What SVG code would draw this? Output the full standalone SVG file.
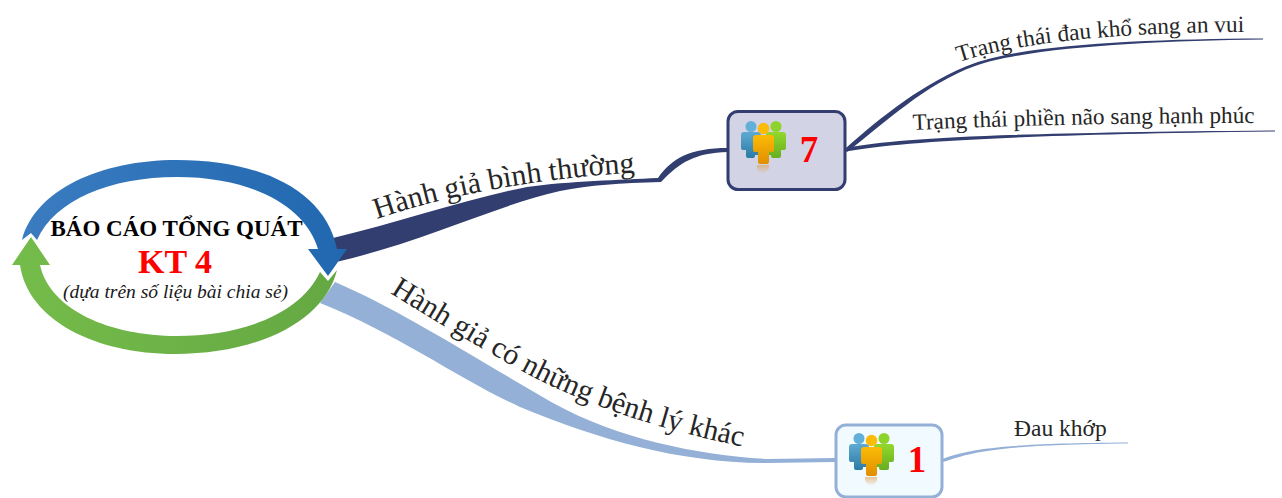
<svg xmlns="http://www.w3.org/2000/svg" width="1282" height="498" viewBox="0 0 1282 498">
<style>
text{font-family:"Liberation Serif","Times New Roman",serif}
.lab{fill:#262626}
.num{fill:#ff0000;font-weight:bold;font-size:37px;text-anchor:middle}
.dark{fill:#323d70}
.light{fill:#94b0d6}
</style>
<defs>
<linearGradient id="gBlue" x1="0" y1="0" x2="0" y2="1"><stop offset="0" stop-color="#5faad2"/><stop offset="1" stop-color="#2a7ba6"/></linearGradient>
<linearGradient id="gGreen" x1="0" y1="0" x2="0" y2="1"><stop offset="0" stop-color="#92d82c"/><stop offset="1" stop-color="#68ae20"/></linearGradient>
<linearGradient id="gOrange" x1="0" y1="0" x2="0" y2="1"><stop offset="0" stop-color="#fbbb06"/><stop offset="1" stop-color="#e08e00"/></linearGradient>
<linearGradient id="gRef" x1="0" y1="0" x2="0" y2="1"><stop offset="0" stop-color="#e0a050" stop-opacity=".6"/><stop offset="1" stop-color="#e0a050" stop-opacity="0"/></linearGradient>
<linearGradient id="gArcB" x1="0" y1="0" x2="1" y2="0"><stop offset="0" stop-color="#3b7cc0"/><stop offset="1" stop-color="#2168b0"/></linearGradient>
<linearGradient id="gArcG" x1="0" y1="0" x2="1" y2="0"><stop offset="0" stop-color="#74bc4a"/><stop offset="1" stop-color="#65a843"/></linearGradient>
<path id="pB1" d="M377 219C450 194 540 178 642 172"/>
<path id="pB2" d="M390 293C430 318 470 342 520 370C590 408 670 433 765 451"/>
<path id="pL1" d="M959 62C1020 42 1120 32 1250 32"/>
<path id="pL2" d="M913 130C1020 125 1130 123 1260 123"/>
<g id="people">
<circle cx="10" cy="5.500" r="5.500" fill="#62afd9"/>
<path d="M0 14q0-3 3-3h14q3 0 3 3v20h-6v1q0 2-2 2h-5q-2 0-2-2v-6h-3q-2 0-2-2z" fill="url(#gBlue)"/>
<circle cx="35" cy="5.500" r="5.500" fill="#8ed32c"/>
<path d="M25 14q0-3 3-3h14q3 0 3 3v13q0 2-2 2h-3v6q0 2-2 2h-6q-2 0-2-2v-1h-5z" fill="url(#gGreen)"/>
<circle cx="22.500" cy="7.500" r="5.800" fill="#fbbb06"/>
<path d="M12 17q0-3 3-3h15q3 0 3 3v12q0 2-2 2h-3v10q0 2-2 2h-7q-2 0-2-2v-10h-3q-2 0-2-2z" fill="url(#gOrange)"/>
<path d="M16 44h12v3q-1 4-6 6q-5-2-6-6z" fill="url(#gRef)"/>
</g>
</defs>
<g id="connectors">
<path class="dark" d="M333 238C400 222 470 198 527 187C570 181 620 180 658 178C672 158 690 148 728 148V152C695 153 680 162 661 182C620 183 590 185 560 191C500 204 420 243 336 262Z"/>
<path class="dark" d="M846 148C880 118 925 81 975 63C1030 44 1150 39 1263 38.500V39.500C1150 41 1030 47 975 66C925 84 885 123 847 152Z"/>
<path class="dark" d="M846 148C900 138 990 133 1275 130.500V131.500C1000 135 900 142 846 151.500Z"/>
<path class="light" d="M335 282C400 310 470 355 553 403C620 440 700 455 767 459L836 458V462L767 463C680 463 600 440 520 407C460 380 400 335 320 303Z"/>
<path class="light" d="M942 459C970 449 1000 443.500 1128 442.500V443.500C1000 445 975 451 943 462Z"/>
</g>
<g id="center">
<path fill="url(#gArcB)" d="M22 240C35 190 100 160 177 160C260 160 325 190 337 249H347L328 276L308 249H318C305 205 250 177 177 177C110 177 55 200 37 240L31 233Z"/>
<path fill="url(#gArcG)" d="M31 237L50 265H40C50 310 110 336 177 336C240 336 300 315 320 272L328 281L337 270C325 320 260 354 175 354C95 354 28 320 20 265H12Z"/>
<text x="176.500" y="236" text-anchor="middle" font-size="23" font-weight="bold" fill="#000">BÁO CÁO TỔNG QUÁT</text>
<text x="175" y="273" text-anchor="middle" font-size="34" font-weight="bold" fill="#ff0000">KT 4</text>
<text x="175.500" y="298" text-anchor="middle" font-size="19.500" font-style="italic" fill="#1a1a1a">(dựa trên số liệu bài chia sẻ)</text>
</g>
<g id="branch1-label"><text class="lab" font-size="30"><textPath href="#pB1">Hành giả bình thường</textPath></text></g>
<g id="branch2-label"><text class="lab" font-size="29.800"><textPath href="#pB2">Hành giả có những bệnh lý khác</textPath></text></g>
<g id="node7">
<rect x="728" y="111.500" width="117" height="78" rx="10" fill="#d2d4e6" stroke="#323d70" stroke-width="3"/>
<use href="#people" x="741" y="121"/>
<text class="num" x="809" y="162">7</text>
</g>
<g id="node1">
<rect x="836" y="425" width="106" height="72" rx="10" fill="#f0faff" stroke="#94b0d6" stroke-width="3"/>
<use href="#people" x="849" y="433"/>
<text class="num" x="917" y="472">1</text>
</g>
<g id="leaf1"><text class="lab" font-size="23.300"><textPath href="#pL1">Trạng thái đau khổ sang an vui</textPath></text></g>
<g id="leaf2"><text class="lab" font-size="23.200"><textPath href="#pL2">Trạng thái phiền não sang hạnh phúc</textPath></text></g>
<g id="leaf3"><text class="lab" font-size="23.500" x="1014" y="436">Đau khớp</text></g>
</svg>
